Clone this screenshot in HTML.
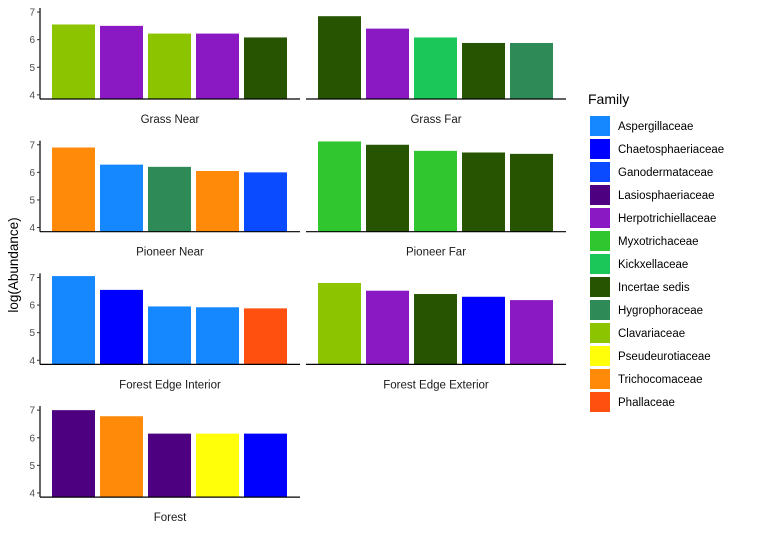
<!DOCTYPE html>
<html><head><meta charset="utf-8"><style>
body{margin:0;background:#fff;}
svg{font-family:"Liberation Sans",sans-serif;display:block;}
</style></head><body>
<svg id="c" width="777" height="555"></svg>
<script>
const panelTitles=["Grass Near","Grass Far","Pioneer Near","Pioneer Far","Forest Edge Interior","Forest Edge Exterior","Forest"];
const panelValues=[
 [6.55,6.5,6.22,6.22,6.08],
 [6.85,6.4,6.08,5.88,5.88],
 [6.9,6.28,6.2,6.05,6.0],
 [7.12,7.0,6.78,6.72,6.67],
 [7.05,6.55,5.95,5.92,5.88],
 [6.8,6.52,6.4,6.3,6.18],
 [7.0,6.78,6.15,6.15,6.15]
];
const panelFamilies=[
 ["Clavariaceae","Herpotrichiellaceae","Clavariaceae","Herpotrichiellaceae","Incertae sedis"],
 ["Incertae sedis","Herpotrichiellaceae","Kickxellaceae","Incertae sedis","Hygrophoraceae"],
 ["Trichocomaceae","Aspergillaceae","Hygrophoraceae","Trichocomaceae","Ganodermataceae"],
 ["Myxotrichaceae","Incertae sedis","Myxotrichaceae","Incertae sedis","Incertae sedis"],
 ["Aspergillaceae","Chaetosphaeriaceae","Aspergillaceae","Aspergillaceae","Phallaceae"],
 ["Clavariaceae","Herpotrichiellaceae","Incertae sedis","Chaetosphaeriaceae","Herpotrichiellaceae"],
 ["Lasiosphaeriaceae","Trichocomaceae","Lasiosphaeriaceae","Pseudeurotiaceae","Chaetosphaeriaceae"]
];
const families=["Aspergillaceae","Chaetosphaeriaceae","Ganodermataceae","Lasiosphaeriaceae","Herpotrichiellaceae","Myxotrichaceae","Kickxellaceae","Incertae sedis","Hygrophoraceae","Clavariaceae","Pseudeurotiaceae","Trichocomaceae","Phallaceae"];
const familyColors=["#1688FF","#0000FF","#0A4BFF","#4D0080","#8A19C4","#2FC62F","#1AC758","#265400","#2E8B57","#8DC400","#FFFF0A","#FF8A0A","#FF5010"];
const yTicks=[4,5,6,7];

const NS="http://www.w3.org/2000/svg";
const svg=document.getElementById('c');
function mk(t,a,p){const e=document.createElementNS(NS,t);for(const k in a)e.setAttribute(k,a[k]);(p||svg).appendChild(e);return e;}
const V0=3.85,PX=27.6,ROW0=99,ROWSTEP=132.7;
function yScale(v,row){return ROW0+row*ROWSTEP-(v-V0)*PX;}
function xScale(i,col){return (col?318:52)+i*48;}

panelTitles.forEach((title,p)=>{
 const row=Math.floor(p/2),col=p%2;
 const g=mk('g',{});
 
 
 const ax=col?306:40, base=ROW0+row*ROWSTEP;
 panelValues[p].forEach((v,i)=>{
  const y=yScale(v,row);
  const r=mk('rect',{x:xScale(i,col),y:y,width:43,height:base-y,fill:familyColors[families.indexOf(panelFamilies[p][i])]},g);
  
  
 });
 mk('line',{x1:ax,x2:ax+260,y1:base,y2:base,stroke:'#000','stroke-width':1.2},g);
 if(!col){
  const yl=mk('line',{x1:ax,x2:ax,y1:yScale(7.15,row),y2:base,stroke:'#000','stroke-width':1.2},g);
  
  
  yTicks.forEach(t=>{
   const y=yScale(t,row);
   mk('line',{x1:ax-3,x2:ax,y1:y,y2:y,stroke:'#333'},g);
   const tx=mk('text',{x:ax-5,y:y+3.5,'font-size':10,fill:'#4d4d4d','text-anchor':'end'},g);
   tx.textContent=t;
   
   
  });
 }
 const st=mk('text',{x:ax+130,y:base+24,'font-size':11.5,fill:'#1a1a1a','text-anchor':'middle'},g);
 st.textContent=title;
 
 
});

const ylab=mk('text',{x:0,y:0,'font-size':13.5,fill:'#000','text-anchor':'middle',transform:'translate(18,265) rotate(-90)'});
ylab.textContent='log(Abundance)';



const lg=mk('g',{});


const lt=mk('text',{x:588,y:104,'font-size':14,fill:'#000'},lg);
lt.textContent='Family';


families.forEach((f,i)=>{
 const y=116+i*23;
 const k=mk('rect',{x:590,y:y,width:20,height:20,fill:familyColors[i]},lg);
 
 
 const t=mk('text',{x:618,y:y+14,'font-size':11.5,fill:'#000'},lg);
 t.textContent=f;
 
 
});
</script>
</body></html>
